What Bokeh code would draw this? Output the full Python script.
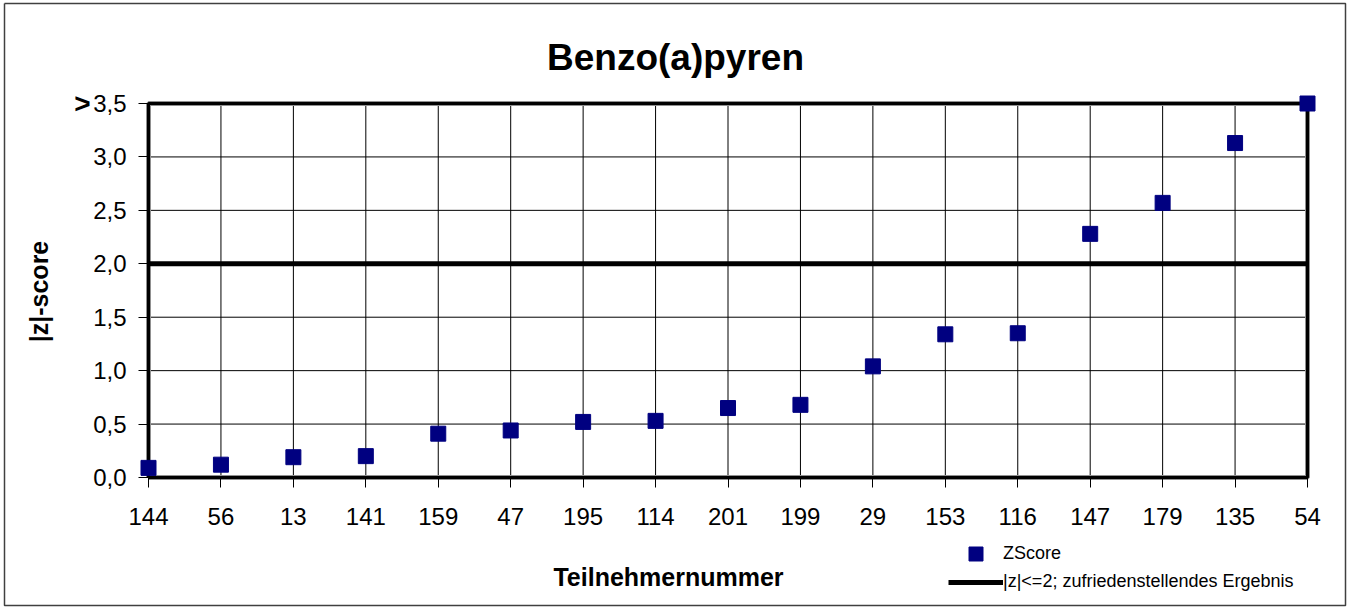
from bokeh.plotting import figure
from bokeh.models import Range1d, FixedTicker, Label, Legend, LegendItem
from bokeh.embed import file_html
from bokeh.resources import INLINE

# ---------------- data ----------------
participants = ["144", "56", "13", "141", "159", "47", "195", "114", "201",
                "199", "29", "153", "116", "147", "179", "135", "54"]
zscores = [0.09, 0.12, 0.19, 0.20, 0.41, 0.44, 0.52, 0.53, 0.65,
           0.68, 1.04, 1.34, 1.35, 2.28, 2.57, 3.13, 3.5]
threshold = 2.0
y_ticks = [0.0, 0.5, 1.0, 1.5, 2.0, 2.5, 3.0, 3.5]
y_tick_labels = ["0,0", "0,5", "1,0", "1,5", "2,0", "2,5", "3,0", "3,5"]
title_text = "Benzo(a)pyren"
x_title = "Teilnehmernummer"
y_title = "|z|-score"
legend_labels = ["ZScore", "|z|<=2; zufriedenstellendes Ergebnis"]

# ---------------- layout (page pixels) ----------------
W, H = 1351, 608
BOX_L, BOX_R, BOX_T, BOX_B = 148, 1307, 103, 477
n = len(participants)
x_max = n - 1
y_max = y_ticks[-1]
sx = (BOX_R - BOX_L) / x_max
sy = (BOX_B - BOX_T) / y_max

def dx(px):
    return (px - BOX_L) / sx

def dy(py):
    return (BOX_B - py) / sy

FONT = "Liberation Sans"
NAVY = "#000080"

p = figure(width=W, height=H, output_backend="svg", toolbar_location=None,
           x_range=Range1d(dx(0), dx(W)), y_range=Range1d(dy(H), dy(0)),
           min_border=0)
p.outline_line_color = None
p.xgrid.visible = False
p.ygrid.visible = False
p.background_fill_color = "white"
p.border_fill_color = "white"

xs = list(range(n))

# outer chart border
p.line([dx(4), dx(1345), dx(1345), dx(4), dx(4)],
       [dy(3), dy(3), dy(605), dy(605), dy(3)], line_color="#404040", line_width=1.5)

# grid lines (bounded to plot box)
p.segment(x0=xs, x1=xs, y0=[0] * n, y1=[y_max] * n, line_color="#000000", line_width=1)
p.segment(x0=[0] * len(y_ticks), x1=[x_max] * len(y_ticks), y0=y_ticks, y1=y_ticks,
          line_color="#000000", line_width=1)

# plot box with shadow
box_x = [0, x_max, x_max, 0, 0]
box_y = [0, 0, y_max, y_max, 0]
p.line(box_x, box_y, line_color="#909090", line_width=5)
p.line(box_x, box_y, line_color="#000000", line_width=3)

# threshold line
thr = p.line([0, x_max], [threshold, threshold], line_color="#000000", line_width=5)

# data points
sc = p.scatter(xs, zscores, marker="square", size=15, fill_color=NAVY, line_color=NAVY)

# axes fixed at the plot box edges
for ax in (p.xaxis[0], p.yaxis[0]):
    ax.fixed_location = 0
    ax.axis_line_color = None
    ax.major_tick_in = 0
    ax.major_tick_out = 10
    ax.minor_tick_line_color = None
    ax.major_tick_line_color = "#000000"
    ax.major_tick_line_width = 1
    ax.major_label_text_font = FONT
    ax.major_label_text_font_size = "24px"
    ax.major_label_text_color = "#000000"

p.xaxis[0].ticker = FixedTicker(ticks=xs)
p.xaxis[0].major_label_overrides = {i: lab for i, lab in zip(xs, participants)}
p.xaxis[0].major_label_standoff = 20
p.yaxis[0].ticker = FixedTicker(ticks=y_ticks)
p.yaxis[0].major_label_overrides = {t: lab for t, lab in zip(y_ticks, y_tick_labels)}
p.yaxis[0].major_label_standoff = 12

# texts
def add_text(x, y, text, size, bold=True, angle=0.0, align="center"):
    p.add_layout(Label(x=x, y=y, text=text, text_font=FONT, text_font_size=size,
                       text_font_style="bold" if bold else "normal",
                       text_color="#000000", angle=angle,
                       text_align=align, text_baseline="middle"))

add_text(dx(675), dy(57), title_text, "37px")
add_text(dx(668), dy(576), x_title, "25px")
add_text(dx(38), dy(291), y_title, "25px", angle=1.5707963)
add_text(dx(90), y_max, ">", "28px", align="right")

# legends
def make_legend(label, rend, gh, cy):
    return Legend(items=[LegendItem(label=label, renderers=[rend])],
                  location=(948, H - (cy + gh / 2)),
                  glyph_width=55, glyph_height=gh, label_standoff=0,
                  padding=0, spacing=0, margin=0,
                  label_text_font=FONT, label_text_font_size="18px",
                  label_text_color="#000000", label_height=gh,
                  border_line_color=None, background_fill_alpha=0)

p.add_layout(make_legend(legend_labels[0], sc, 35, 553))
p.add_layout(make_legend(legend_labels[1], thr, 20, 582))

open("out.html", "w").write(file_html(p, INLINE))
